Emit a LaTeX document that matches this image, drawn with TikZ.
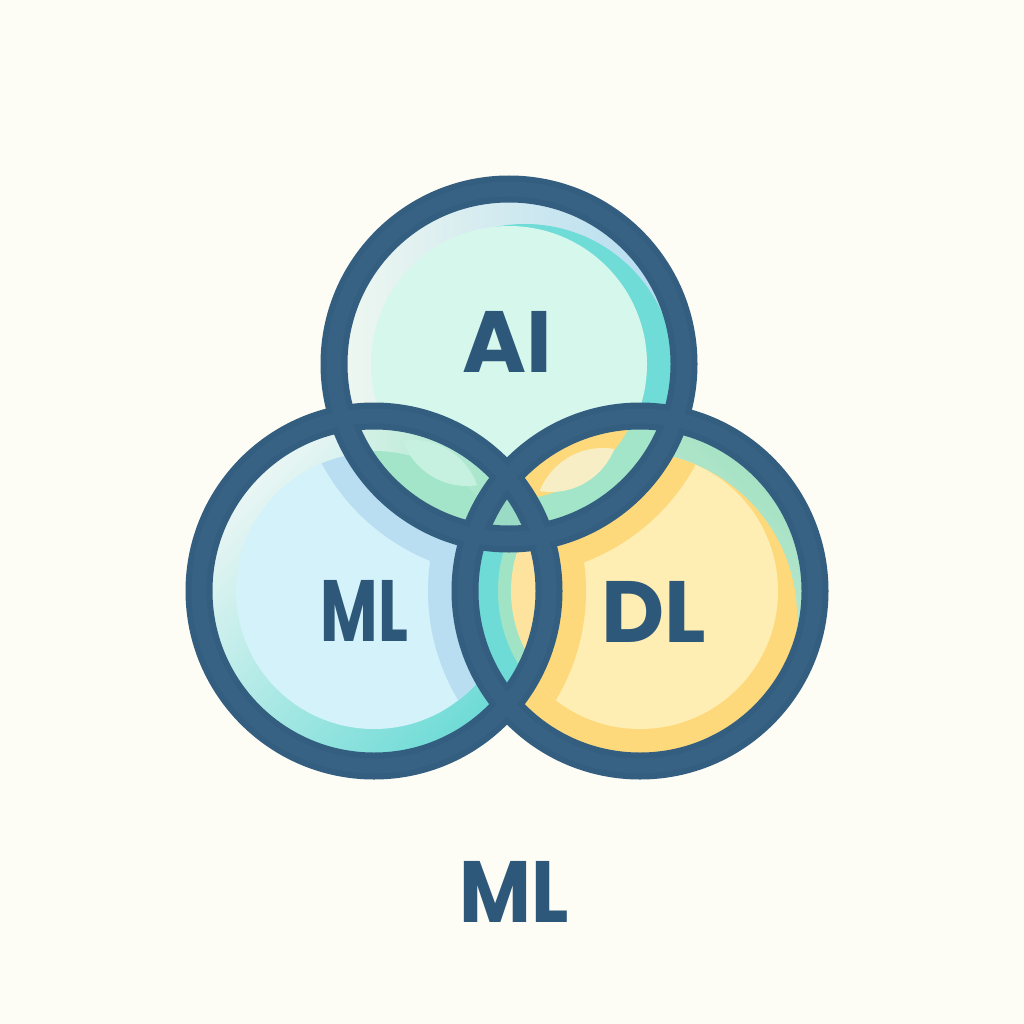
\documentclass[tikz,border=0pt]{standalone}
\usepackage{fontspec}
\newfontfamily\lab{Poppins}
\begin{document}
\begin{tikzpicture}[x=1pt,y=-1pt]
\definecolor{bg}{HTML}{FDFCF5}
\definecolor{ink}{HTML}{2E5879}
\definecolor{ringdark}{HTML}{345E80}
\definecolor{ring}{HTML}{386284}
\definecolor{lwhite}{HTML}{EAF6F4}
\definecolor{lturq}{HTML}{6EDBD6}
\definecolor{lmain}{HTML}{D3F2FA}
\definecolor{lshadow}{HTML}{B9DEF1}
\definecolor{rgreen}{HTML}{A6E2C4}
\definecolor{rorange}{HTML}{FDD97B}
\definecolor{rmain}{HTML}{FEEEB3}
\definecolor{awhite}{HTML}{EEF7F0}
\definecolor{ablue}{HTML}{B3DCF0}
\definecolor{aturq}{HTML}{6FDCD8}
\definecolor{amain}{HTML}{D6F8EC}
\definecolor{green}{HTML}{A2E5C8}
\definecolor{lensAL}{HTML}{C6F0E0}
\definecolor{lensAR}{HTML}{F8EEC6}
\definecolor{lrgreen}{HTML}{A0E4C5}
\definecolor{lryellow}{HTML}{FDE39E}
\definecolor{center}{HTML}{9ADBC5}
\tikzset{
  ringdk/.style={draw=ringdark, line width=27pt},
  ringmd/.style={draw=ring, line width=15pt},
  label/.style={text=ink, inner sep=0pt, font=\lab\bfseries\fontsize{87}{87}\selectfont}
}
\useasboundingbox (0,0) rectangle (1024,1024);
\fill[bg] (0,0) rectangle (1024,1024);
\coordinate (A) at (509,364);
\coordinate (L) at (374,591);
\coordinate (R) at (640,591);
% left circle
\begin{scope}
  \clip (L) circle[radius=165pt];
  \shade[top color=lwhite, bottom color=lturq, shading angle=45] (L) circle[radius=165pt];
  \fill[lmain] (L) circle[radius=138pt];
  \clip (L) circle[radius=138pt];
  \fill[lshadow] (A) circle[radius=212pt] (R) circle[radius=212pt];
\end{scope}
% right circle
\begin{scope}
  \clip (R) circle[radius=165pt];
  \shade[top color=rgreen, bottom color=white!70!rgreen, shading angle=-45] (R) circle[radius=165pt];
  \fill[rorange] (632,617) circle[radius=165pt];
  \fill[rmain] (R) circle[radius=138pt];
  \clip (R) circle[radius=138pt];
  \fill[rorange] (A) circle[radius=212pt] (L) circle[radius=212pt];
\end{scope}
% top circle
\begin{scope}
  \clip (A) circle[radius=165pt];
  \shade[left color=awhite, right color=ablue] (A) circle[radius=165pt];
  \fill[aturq] (525,374) circle[radius=150pt];
  \fill[amain] (A) circle[radius=138pt];
\end{scope}
% A and L
\begin{scope}
  \clip (A) circle[radius=163pt];
  \clip (L) circle[radius=163pt];
  \shade[left color=lwhite, right color=green] (300,400) rectangle (500,540);
  \fill[green] (L) circle[radius=140pt];
  \begin{scope}
    \clip (413,508) circle[radius=68pt];
    \fill[lensAL] (467,418) circle[radius=68pt];
  \end{scope}
\end{scope}
% A and R
\begin{scope}
  \clip (A) circle[radius=163pt];
  \clip (R) circle[radius=163pt];
  \fill[green] (A) circle[radius=170pt];
  \fill[rorange] (A) circle[radius=136pt];
  \begin{scope}
    \clip (551,424) circle[radius=68pt];
    \fill[lensAR] (603,516) circle[radius=68pt];
  \end{scope}
\end{scope}
% L and R
\begin{scope}
  \clip (L) circle[radius=163pt];
  \clip (R) circle[radius=163pt];
  \fill[lturq] (R) circle[radius=170pt];
  \fill[lrgreen] (R) circle[radius=142pt];
  \fill[lryellow] (R) circle[radius=129pt];
\end{scope}
% centre
\begin{scope}
  \clip (A) circle[radius=163pt];
  \clip (L) circle[radius=163pt];
  \fill[center] (R) circle[radius=163pt];
\end{scope}
% rings
\foreach \c in {A,L,R} {
  \draw[ringdk] (\c) circle[radius=175pt];
}
\foreach \c in {A,L,R} {
  \draw[ringmd] (\c) circle[radius=175pt];
}
% labels
\node[label] (tAI) at (507,341.5) {AI};
\node[label] (tML) at (364.5,611) {\scalebox{0.72}[1]{ML}};
\node[label] (tDL) at (654,611.5) {DL};
\node[label] (tBottom) at (514,892) {\scalebox{0.9}[1]{ML}};
\end{tikzpicture}
\end{document}
